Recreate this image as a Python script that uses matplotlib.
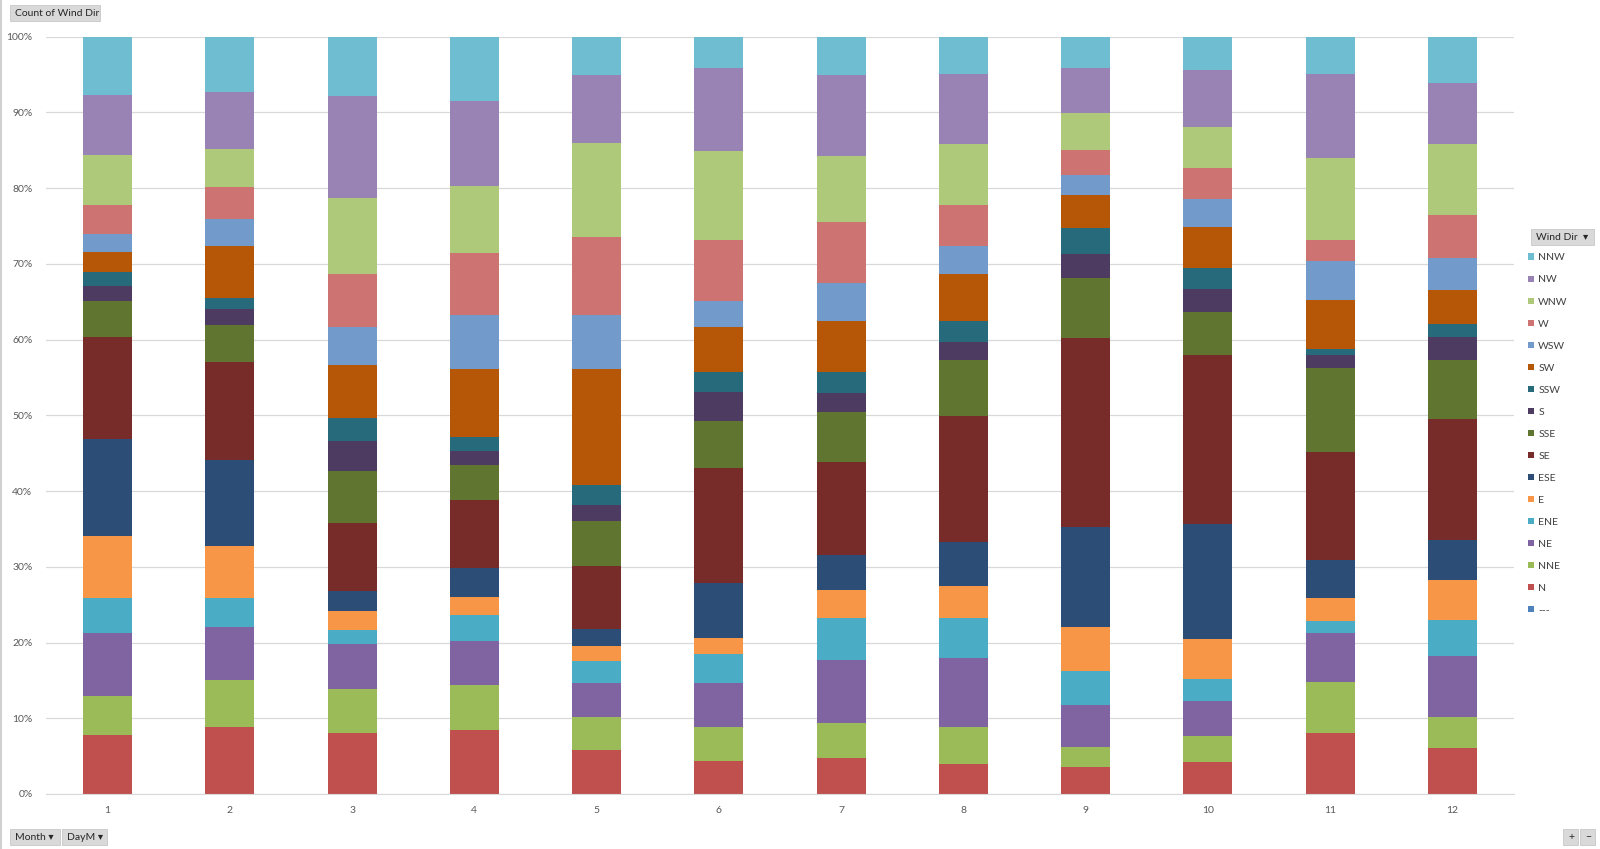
import matplotlib
matplotlib.use("Agg")
import matplotlib.pyplot as plt
from matplotlib.patches import Patch, Rectangle
from matplotlib.ticker import PercentFormatter

plt.rcParams['font.family'] = ['Lato', 'DejaVu Sans']

months = ['1', '2', '3', '4', '5', '6', '7', '8', '9', '10', '11', '12']

# share (%) of each wind direction per month
dash = [0, 0, 0, 0, 0, 0, 0, 0, 0, 0, 0, 0]
N = [7.8, 8.8, 8.1, 8.5, 5.8, 4.4, 4.7, 4.0, 3.6, 4.2, 8.1, 6.1]
NNE = [5.2, 6.3, 5.8, 5.9, 4.4, 4.5, 4.7, 4.9, 2.6, 3.5, 6.7, 4.0]
NE = [8.3, 7.0, 5.9, 5.8, 4.4, 5.8, 8.3, 9.0, 5.5, 4.6, 6.4, 8.1]
ENE = [4.6, 3.8, 1.9, 3.4, 2.9, 3.8, 5.5, 5.3, 4.6, 2.9, 1.6, 4.8]
E = [8.2, 6.8, 2.4, 2.4, 2.0, 2.1, 3.8, 4.2, 5.7, 5.3, 3.1, 5.2]
ESE = [12.8, 11.4, 2.7, 3.9, 2.3, 7.3, 4.5, 5.9, 13.2, 15.2, 5.0, 5.4]
SE = [13.5, 12.9, 9.0, 8.9, 8.3, 15.1, 12.3, 16.6, 25.0, 22.3, 14.2, 15.9]
SSE = [4.7, 4.9, 6.9, 4.7, 6.0, 6.3, 6.6, 7.4, 7.9, 5.7, 11.1, 7.8]
S = [2.0, 2.1, 3.9, 1.8, 2.0, 3.8, 2.6, 2.4, 3.2, 3.0, 1.8, 3.1]
SSW = [1.8, 1.5, 3.0, 1.9, 2.7, 2.6, 2.7, 2.7, 3.4, 2.8, 0.8, 1.7]
SW = [2.7, 6.9, 7.1, 8.9, 15.3, 5.9, 6.7, 6.3, 4.4, 5.4, 6.4, 4.5]
WSW = [2.3, 3.5, 4.9, 7.1, 7.2, 3.5, 5.1, 3.7, 2.6, 3.7, 5.2, 4.2]
W = [3.9, 4.3, 7.0, 8.2, 10.2, 8.1, 8.0, 5.4, 3.3, 4.1, 2.8, 5.7]
WNW = [6.6, 5.0, 10.1, 8.9, 12.5, 11.7, 8.7, 8.0, 4.9, 5.4, 10.8, 9.3]
NW = [7.9, 7.5, 13.5, 11.2, 9.0, 10.9, 10.7, 9.3, 5.9, 7.5, 11.1, 8.1]
NNW = [7.7, 7.3, 7.8, 8.5, 5.0, 4.2, 5.1, 4.9, 4.2, 4.4, 4.9, 6.1]

series = [
    ('---', dash, '#4F81BD'),
    ('N', N, '#C0504D'),
    ('NNE', NNE, '#9BBB59'),
    ('NE', NE, '#8064A2'),
    ('ENE', ENE, '#4BACC6'),
    ('E', E, '#F79646'),
    ('ESE', ESE, '#2C4D75'),
    ('SE', SE, '#772C2A'),
    ('SSE', SSE, '#5F7530'),
    ('S', S, '#4D3B62'),
    ('SSW', SSW, '#276A7C'),
    ('SW', SW, '#B65708'),
    ('WSW', WSW, '#729ACA'),
    ('W', W, '#CD7371'),
    ('WNW', WNW, '#AFC97A'),
    ('NW', NW, '#9983B5'),
    ('NNW', NNW, '#6FBDD1'),
]

fig = plt.figure(figsize=(16, 8.49), dpi=100)
ax = fig.add_axes([0.029, 0.0648, 0.917, 0.892])

x = range(1, len(months) + 1)
bottom = [0.0] * len(months)
for name, vals, col in series:
    total = [sum(s[1][i] for s in series) for i in range(len(months))]
    share = [vals[i] / total[i] for i in range(len(months))]
    ax.bar(x, share, width=0.4, bottom=bottom, color=col, linewidth=0)
    bottom = [bottom[i] + share[i] for i in range(len(months))]

ax.set_xlim(0.5, 12.5)
ax.set_ylim(0, 1)
ax.set_xticks(list(x))
ax.set_xticklabels(months)
ax.set_yticks([i / 10 for i in range(11)])
ax.yaxis.set_major_formatter(PercentFormatter(1.0, decimals=0))
ax.tick_params(axis='both', length=0, labelsize=7.5, colors='#595959')
ax.tick_params(axis='x', pad=9)
ax.tick_params(axis='y', pad=10)
ax.grid(axis='y', color='#D9D9D9', linewidth=0.9)
ax.set_axisbelow(True)
for side in ['top', 'right', 'left']:
    ax.spines[side].set_visible(False)
ax.spines['bottom'].set_color('#D9D9D9')

# legend, top entry = top of the stack
handles = [Patch(facecolor=col, edgecolor='none') for _, _, col in series[::-1]]
labels = [name for name, _, _ in series[::-1]]
leg = fig.legend(handles, labels, loc='upper left', bbox_to_anchor=(0.949, 0.7125),
                 frameon=False, fontsize=7.5, handlelength=0.6, handleheight=0.6,
                 handletextpad=0.4, labelspacing=1.25, labelcolor='#404040')

# pivot field buttons
def button(x0, y0, w, h, text):
    fig.patches.append(Rectangle((x0, y0), w, h, transform=fig.transFigure,
                                 facecolor='#D9D9D9', edgecolor='#C8C8C8', linewidth=0.6))
    fig.text(x0 + 0.003, y0 + h / 2, text, fontsize=7.5, color='#262626',
             va='center', ha='left')

button(0.0065, 0.975, 0.056, 0.019, 'Count of Wind Dir')
button(0.0065, 0.0045, 0.031, 0.019, 'Month \u25be')
button(0.039, 0.0045, 0.028, 0.019, 'DayM \u25be')
button(0.957, 0.711, 0.039, 0.019, 'Wind Dir  \u25be')
button(0.977, 0.0045, 0.0095, 0.019, '+')
button(0.9875, 0.0045, 0.0095, 0.019, '\u2212')

fig.patches.append(Rectangle((0, 0), 0.0015, 1, transform=fig.transFigure,
                             facecolor='#D0D0D0', edgecolor='none'))

fig.savefig('out.png', dpi=100)
